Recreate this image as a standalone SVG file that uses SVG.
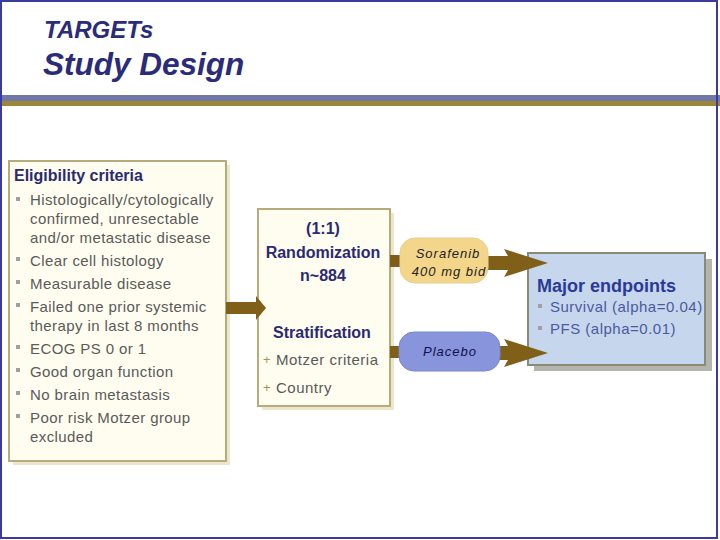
<svg xmlns="http://www.w3.org/2000/svg" width="720" height="540" viewBox="0 0 720 540">
<style>
.t{font-family:"Liberation Sans",Arial,sans-serif}
.title{font-weight:bold;font-style:italic;fill:#2b2b7b}
.hd{font-weight:bold;font-size:16px;fill:#2a2a72}
.body{font-size:15px;fill:#5a5a5a;letter-spacing:0.4px}
.ep{font-size:15px;fill:#4a5aa0;letter-spacing:0.5px}
.pill{font-size:13px;font-style:italic;letter-spacing:1px}
.cream{fill:#fffdf0;stroke:#b8aa7a;stroke-width:2}
.shadow{fill:#ece6cc}
.arrow{fill:#806018}
.sq{fill:#a0a0a0}
</style>
<rect x="0" y="0" width="720" height="540" fill="#ffffff"/>
<g id="header">
<text class="t title" x="44" y="38" font-size="24">TARGETs</text>
<text class="t title" x="43" y="75" font-size="31.5">Study Design</text>
<rect x="0" y="95" width="720" height="6" fill="#6f78a8"/>
<rect x="0" y="101" width="720" height="5" fill="#9a8838"/>
</g>
<g id="eligibility">
<rect class="shadow" x="13" y="165" width="217" height="300"/>
<rect class="cream" x="9" y="161" width="217" height="300"/>
<text class="t hd" x="14" y="181">Eligibility criteria</text>
<g class="sq">
<rect x="16" y="197" width="4" height="4"/>
<rect x="16" y="257" width="4" height="4"/>
<rect x="16" y="280" width="4" height="4"/>
<rect x="16" y="303" width="4" height="4"/>
<rect x="16" y="345" width="4" height="4"/>
<rect x="16" y="368" width="4" height="4"/>
<rect x="16" y="391" width="4" height="4"/>
<rect x="16" y="414" width="4" height="4"/>
</g>
<text class="t body" x="30" y="205">Histologically/cytologically</text>
<text class="t body" x="30" y="224">confirmed, unresectable</text>
<text class="t body" x="30" y="243">and/or metastatic disease</text>
<text class="t body" x="30" y="266">Clear cell histology</text>
<text class="t body" x="30" y="289">Measurable disease</text>
<text class="t body" x="30" y="312">Failed one prior systemic</text>
<text class="t body" x="30" y="331">therapy in last 8 months</text>
<text class="t body" x="30" y="354">ECOG PS 0 or 1</text>
<text class="t body" x="30" y="377">Good organ function</text>
<text class="t body" x="30" y="400">No brain metastasis</text>
<text class="t body" x="30" y="423">Poor risk Motzer group</text>
<text class="t body" x="30" y="442">excluded</text>
</g>
<g id="randomization">
<rect class="shadow" x="262" y="213" width="132" height="197"/>
<rect class="cream" x="258" y="209" width="132" height="197"/>
<text class="t hd" x="323" y="234" text-anchor="middle">(1:1)</text>
<text class="t hd" x="323" y="258" text-anchor="middle">Randomization</text>
<text class="t hd" x="323" y="281" text-anchor="middle">n~884</text>
<text class="t hd" x="322" y="338" text-anchor="middle">Stratification</text>
<text class="t" x="263" y="364" font-size="13" fill="#a89450">+</text>
<text class="t" x="263" y="392" font-size="13" fill="#a89450">+</text>
<text class="t body" x="276" y="365" style="letter-spacing:0.5px">Motzer criteria</text>
<text class="t body" x="276" y="393" style="letter-spacing:0.5px">Country</text>
</g>
<g id="endpoints">
<rect x="534" y="259" width="178" height="112" fill="#b4b4ac"/>
<rect x="528" y="253" width="177" height="112" fill="#c6d6ec" stroke="#8a8a78" stroke-width="2"/>
<text class="t" x="537" y="292" font-size="18" font-weight="bold" fill="#2a3a98">Major endpoints</text>
<rect class="sq" x="538" y="304" width="4" height="4"/>
<rect class="sq" x="538" y="326" width="4" height="4"/>
<text class="t ep" x="550" y="312">Survival (alpha=0.04)</text>
<text class="t ep" x="550" y="334">PFS (alpha=0.01)</text>
</g>
<g id="connectors">
<path class="arrow" d="M226,302 H256 V296 L266,308 L256,320 V314 H226 Z"/>
<rect class="arrow" x="390" y="255" width="14" height="12"/>
<rect class="arrow" x="390" y="346" width="14" height="12"/>
<path class="arrow" d="M486,256 H508 L504,249 L548,263 L504,277 L508,270 H486 Z"/>
<path class="arrow" d="M498,346 H508 L504,339 L548,353 L504,367 L508,360 H498 Z"/>
</g>
<g id="sorafenib">
<rect x="400" y="238" width="88" height="45" rx="15" fill="#f4d68a" stroke="#e8cf90" stroke-width="1"/>
<text class="t pill" x="448" y="258" text-anchor="middle" fill="#222222">Sorafenib</text>
<text class="t pill" x="449" y="276" text-anchor="middle" fill="#222222">400 mg bid</text>
</g>
<g id="placebo">
<rect x="399" y="332" width="101" height="39" rx="15" fill="#8894dc" stroke="#7a86cc" stroke-width="1"/>
<text class="t pill" x="450" y="356" text-anchor="middle" fill="#10104a">Placebo</text>
</g>
<rect x="1" y="1" width="716" height="537" fill="none" stroke="#3a3aa0" stroke-width="2"/>
</svg>
